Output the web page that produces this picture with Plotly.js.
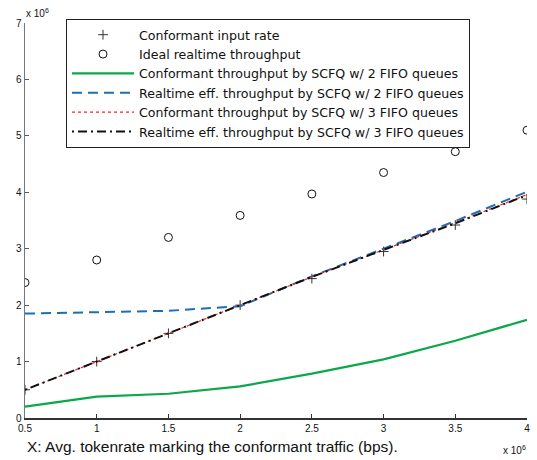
<!DOCTYPE html>
<html>
<head>
<meta charset="utf-8">
<script src="https://cdn.plot.ly/plotly-3.0.1.min.js"></script>
<style>html,body{margin:0;padding:0;background:#fff;}#chart{width:537px;height:460px;}</style>
</head>
<body>
<div id="chart"></div>
<script>
const xRate = [0.5e6, 1e6, 1.5e6, 2e6, 2.5e6, 3e6, 3.5e6, 4e6];
const inputRate = [0.5e6, 1.0e6, 1.5e6, 2.0e6, 2.47e6, 2.95e6, 3.42e6, 3.88e6];
const idealThroughput = [2.40e6, 2.80e6, 3.20e6, 3.59e6, 3.97e6, 4.35e6, 4.72e6, 5.10e6];
const conf2 = [0.20e6, 0.38e6, 0.43e6, 0.56e6, 0.785e6, 1.04e6, 1.37e6, 1.74e6];
const real2 = [1.85e6, 1.88e6, 1.90e6, 1.98e6, 2.51e6, 3.00e6, 3.49e6, 4.01e6];
const conf3 = [0.50e6, 1.00e6, 1.50e6, 2.00e6, 2.50e6, 2.98e6, 3.46e6, 3.96e6];
const real3 = [0.50e6, 1.00e6, 1.50e6, 2.00e6, 2.50e6, 2.98e6, 3.45e6, 3.95e6];
const yTicks = [0, 1e6, 2e6, 3e6, 4e6, 5e6, 6e6, 7e6];
const yTickText = ['0', '1', '2', '3', '4', '5', '6', '7'];
const xTicks = [0.5e6, 1e6, 1.5e6, 2e6, 2.5e6, 3e6, 3.5e6, 4e6];
const xTickText = ['0.5', '1', '1.5', '2', '2.5', '3', '3.5', '4'];
const names = [
  'Conformant input rate',
  'Ideal realtime throughput',
  'Conformant throughput by SCFQ w/ 2 FIFO queues',
  'Realtime eff. throughput by SCFQ w/ 2 FIFO queues',
  'Conformant throughput by SCFQ w/ 3 FIFO queues',
  'Realtime eff. throughput by SCFQ w/ 3 FIFO queues'
];

const traces = [
  {x: xRate, y: inputRate, name: names[0], mode: 'markers', type: 'scatter',
   marker: {symbol: 'cross-thin-open', size: 7, color: '#333', line: {color: '#333', width: 1}}},
  {x: xRate, y: idealThroughput, name: names[1], mode: 'markers', type: 'scatter',
   marker: {symbol: 'circle-open', size: 8, color: '#111', line: {color: '#111', width: 1}}},
  {x: xRate, y: conf2, name: names[2], mode: 'lines', type: 'scatter',
   line: {color: '#0aa84a', width: 2.2}},
  {x: xRate, y: real2, name: names[3], mode: 'lines', type: 'scatter',
   line: {color: '#1a6fb5', width: 2, dash: '10px,6px'}},
  {x: xRate, y: conf3, name: names[4], mode: 'lines', type: 'scatter',
   line: {color: '#ff2020', width: 1.2, dash: 'dot'}},
  {x: xRate, y: real3, name: names[5], mode: 'lines', type: 'scatter',
   line: {color: '#111', width: 2, dash: '2px,4px,9px,4px'}}
];

const layout = {
  width: 537, height: 460,
  margin: {l: 25, r: 10, t: 23, b: 42},
  paper_bgcolor: '#fff', plot_bgcolor: '#fff',
  font: {family: 'Liberation Sans, Arial, sans-serif', color: '#111'},
  showlegend: true,
  legend: {
    x: 41/502, y: 1 + 4/395, xref: 'paper', yref: 'paper',
    xanchor: 'left', yanchor: 'top',
    bgcolor: '#fff', bordercolor: '#222', borderwidth: 1,
    font: {family: 'DejaVu Sans, sans-serif', size: 12.6, color: '#111'},
    itemwidth: 62, tracegroupgap: 0
  },
  xaxis: {
    range: [0.5e6, 4e6], tickvals: xTicks, ticktext: xTickText,
    ticks: 'inside', ticklen: 4, tickcolor: '#333',
    showline: true, linecolor: '#333', linewidth: 1.5,
    showgrid: false, zeroline: false, mirror: false,
    tickfont: {size: 10, color: '#111'}
  },
  yaxis: {
    range: [0, 7e6], tickvals: yTicks, ticktext: yTickText,
    ticks: 'inside', ticklen: 4, tickcolor: '#555',
    showline: true, linecolor: '#777', linewidth: 1.5,
    showgrid: false, zeroline: false, mirror: false,
    tickfont: {size: 10, color: '#111'}
  },
  annotations: [
    {text: 'X: Avg. tokenrate marking the conformant traffic (bps).', xref: 'paper', yref: 'paper',
     x: 0, y: -18/395, xanchor: 'left', yanchor: 'top', showarrow: false,
     font: {size: 15.5, color: '#111'}},
    {text: 'x 10<sup>6</sup>', xref: 'paper', yref: 'paper', x: 476/502, y: -24/395,
     xanchor: 'left', yanchor: 'top', showarrow: false, font: {size: 10, color: '#111'}},
    {text: 'x 10<sup>6</sup>', xref: 'paper', yref: 'paper', x: -1/502, y: 1 + 2/395,
     xanchor: 'left', yanchor: 'bottom', showarrow: false, font: {size: 10, color: '#111'}}
  ]
};

Plotly.newPlot('chart', traces, layout, {staticPlot: true, displayModeBar: false});
</script>
</body>
</html>
